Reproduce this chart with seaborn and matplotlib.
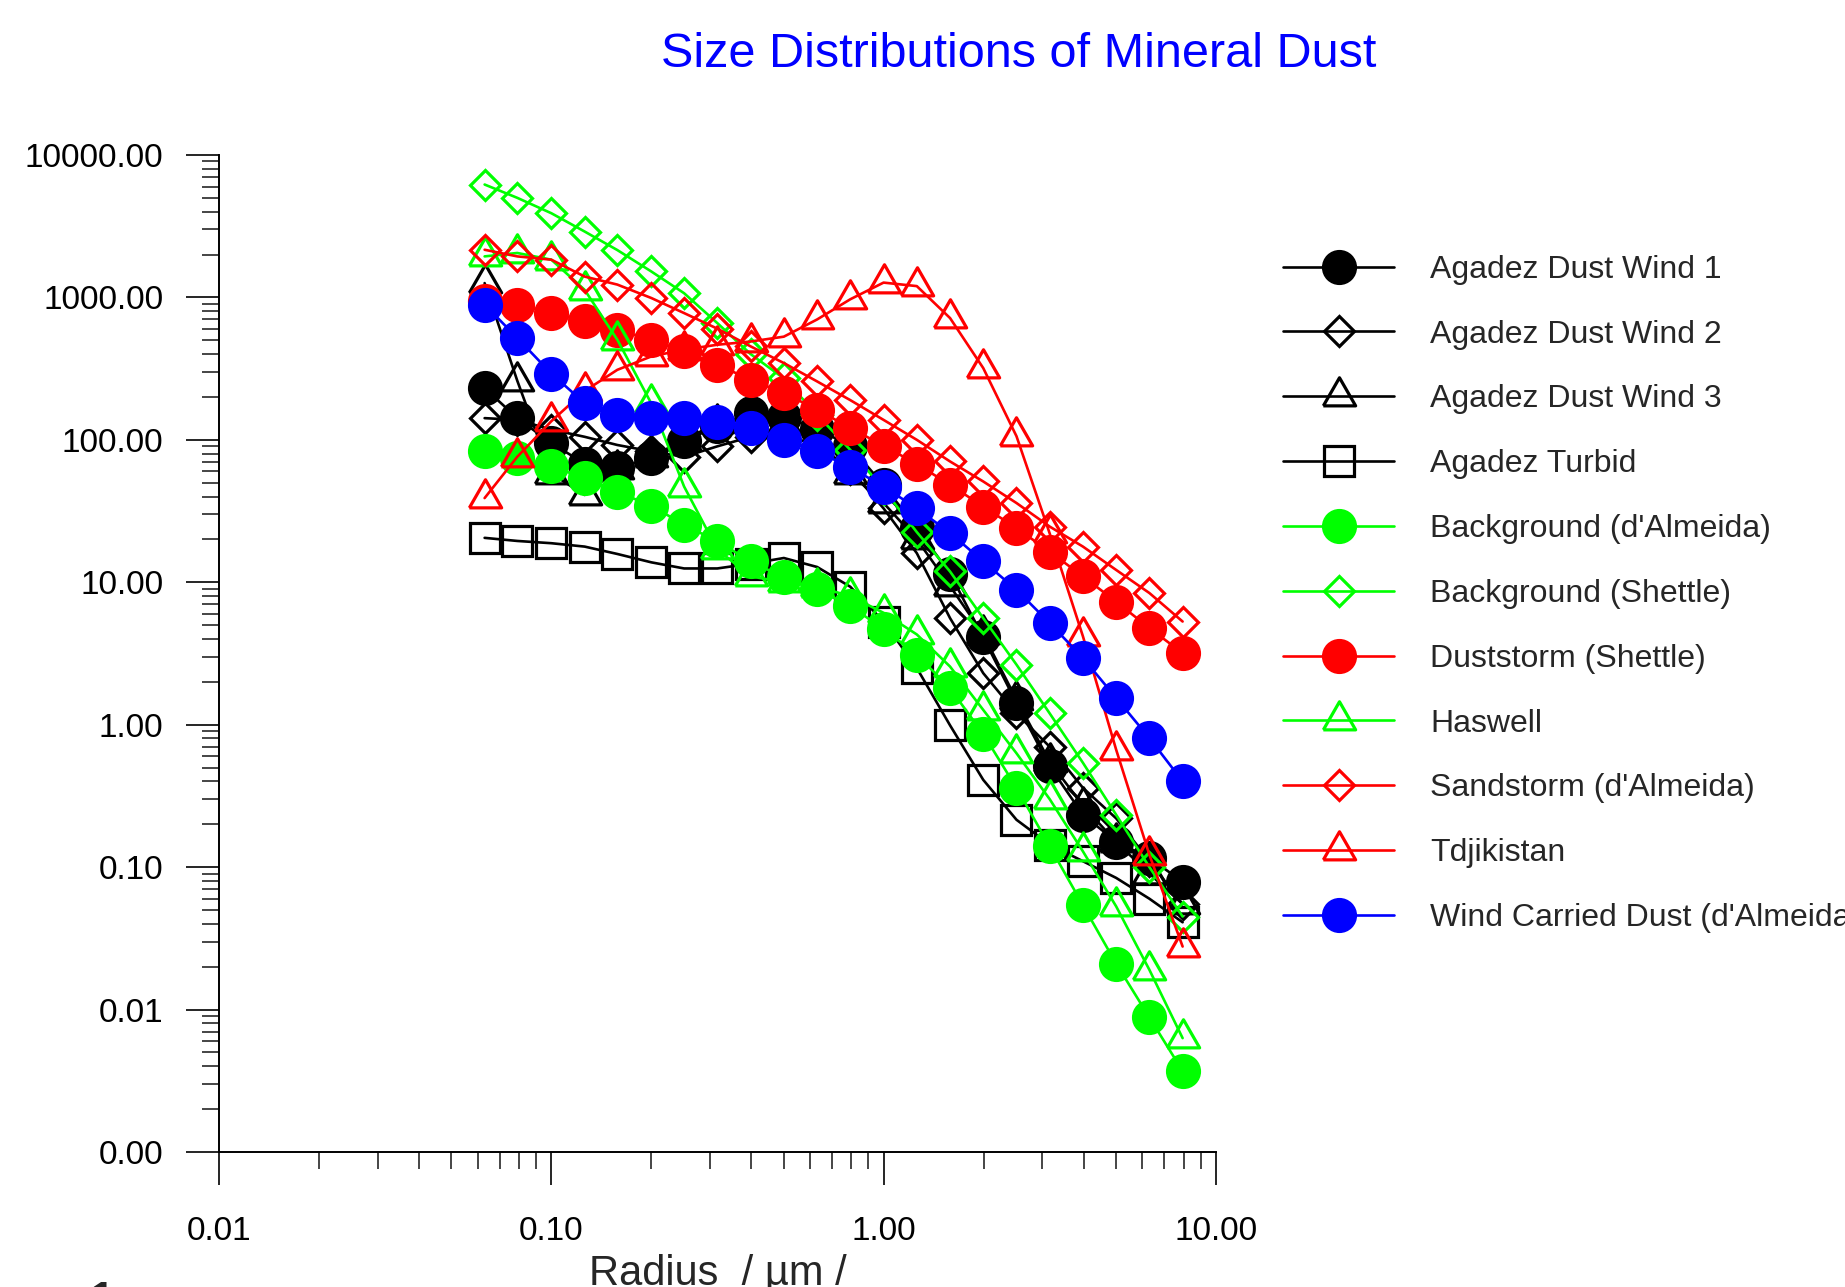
import numpy as np
import matplotlib
matplotlib.use('Agg')
import matplotlib.pyplot as plt
import seaborn as sns
from matplotlib.ticker import LogLocator, FuncFormatter, NullFormatter

# Radius grid (um), shared by every series
radius = [0.063, 0.079, 0.1, 0.126, 0.158, 0.2, 0.251, 0.316, 0.398, 0.501, 0.631,
          0.794, 1.0, 1.259, 1.585, 1.995, 2.512, 3.162, 3.981, 5.012, 6.31, 7.943]

# Number distributions
agadez_wind1 = [231, 142, 95, 68, 63, 75, 98, 125, 155, 145, 120, 90, 48, 24, 11.5,
                4.1, 1.42, 0.51, 0.233, 0.151, 0.116, 0.079]
agadez_wind2 = [142, 138, 118, 105, 92, 83, 76, 90, 105, 108, 92, 62, 33, 16, 5.6,
                2.3, 1.2, 0.70, 0.36, 0.22, 0.11, 0.055]
agadez_wind3 = [1260, 260, 58, 41, 62, 76, 100, 131, 140, 130, 100, 58, 36, 20, 9.4,
                4.3, 1.5, 0.55, 0.27, 0.15, 0.09, 0.055]
agadez_turbid = [20.5, 19.5, 18.8, 17.8, 15.8, 13.8, 12.5, 12.5, 13.5, 14.8, 12.8, 9.3,
                 5.3, 2.5, 0.99, 0.41, 0.215, 0.144, 0.11, 0.084, 0.06, 0.041]
bg_dalmeida = [83, 74, 65, 54, 43, 34.5, 25.3, 19.4, 14, 10.8, 8.9, 6.8, 4.7, 3.1, 1.8,
               0.86, 0.36, 0.14, 0.054, 0.021, 0.0088, 0.0037]
bg_shettle = [6200, 5000, 3900, 2900, 2150, 1520, 1070, 660, 400, 270, 150, 85, 45, 22.5,
              11.9, 5.6, 2.64, 1.2, 0.54, 0.233, 0.10, 0.045]
duststorm_shettle = [950, 889, 776, 679, 593, 505, 418, 337, 264, 213, 163, 121, 91, 67.5,
                     48.4, 34, 24, 16.4, 11, 7.3, 4.77, 3.18]
haswell = [1940, 2050, 1840, 1130, 505, 180, 47, 17, 11, 10, 9.3, 8, 6.1, 4.3, 2.56,
           1.27, 0.63, 0.30, 0.129, 0.053, 0.019, 0.0063]
sandstorm_dalmeida = [2160, 1940, 1840, 1400, 1230, 990, 776, 603, 453, 346, 257, 190, 138,
                      100, 70.5, 51, 36, 24.6, 17.8, 12.2, 8.4, 5.3]
tdjikistan = [39, 76, 135, 220, 310, 385, 430, 465, 490, 530, 700, 970, 1270, 1200, 716,
              319, 106, 22, 4.17, 0.667, 0.122, 0.0277]
wind_carried = [890, 519, 292, 181, 150, 142, 142, 134, 122, 100, 83, 64, 47, 33, 22.2,
                14, 8.85, 5.17, 2.94, 1.54, 0.805, 0.40]

labels = ['Agadez Dust Wind 1', 'Agadez Dust Wind 2', 'Agadez Dust Wind 3', 'Agadez Turbid',
          "Background (d'Almeida)", 'Background (Shettle)', 'Duststorm (Shettle)', 'Haswell',
          "Sandstorm (d'Almeida)", 'Tdjikistan', "Wind Carried Dust (d'Almeida)"]
series = [agadez_wind1, agadez_wind2, agadez_wind3, agadez_turbid, bg_dalmeida, bg_shettle,
          duststorm_shettle, haswell, sandstorm_dalmeida, tdjikistan, wind_carried]
colors = ['black', 'black', 'black', 'black', '#00ff00', '#00ff00', '#ff0000', '#00ff00',
          '#ff0000', '#ff0000', '#0000ff']
shapes = ['circle', 'diamond', 'triangle', 'square', 'circle', 'diamond', 'circle',
          'triangle', 'diamond', 'triangle', 'circle']

# marker look per shape: (marker, size, filled)
tri = [(-1, -0.58), (1, -0.58), (0, 1.16), (-1, -0.58)]
marker_look = {'circle': ('o', 23, True), 'diamond': ('D', 15, False),
               'triangle': (tri, 27, False), 'square': ('s', 21.5, False)}

sns.set_style('ticks')
plt.rcParams['font.family'] = ['Liberation Sans', 'DejaVu Sans']

fig = plt.figure(figsize=(18.45, 12.87), dpi=100)
ax = fig.add_axes([0.1187, 0.1049, 0.5403, 0.7747])
ax.set_xscale('log')
ax.set_yscale('log')

for i in range(len(series)):
    m, ms, filled = marker_look[shapes[i]]
    sns.lineplot(x=radius, y=series[i], ax=ax, color=colors[i], linewidth=1.9,
                 marker=m, markersize=ms, markeredgewidth=2.3,
                 markerfacecolor=colors[i] if filled else 'none',
                 markeredgecolor=colors[i], label=labels[i], zorder=3 + i)

ax.set_xlim(0.01, 10)
ax.set_ylim(0.001, 10000)

fmt = FuncFormatter(lambda v, p: '%.2f' % v)
for axis in [ax.xaxis, ax.yaxis]:
    axis.set_major_locator(LogLocator(base=10, numticks=20))
    axis.set_minor_locator(LogLocator(base=10, subs=np.arange(2, 10), numticks=40))
    axis.set_major_formatter(fmt)
    axis.set_minor_formatter(NullFormatter())

ax.tick_params(which='major', length=24, width=1.2, labelsize=24, colors='black')
ax.tick_params(which='minor', length=12, width=1.2)
ax.tick_params(axis='x', which='major', pad=22)
ax.tick_params(axis='y', which='major', pad=16)
for s in ['top', 'right']:
    ax.spines[s].set_visible(False)
for s in ['left', 'bottom']:
    ax.spines[s].set_linewidth(1.4)
    ax.spines[s].set_color('black')
ax.set_xlabel('')
ax.set_ylabel('')

handles, labs = ax.get_legend_handles_labels()
if ax.get_legend() is not None:
    ax.get_legend().remove()
fig.legend(handles, labs, loc='upper left', bbox_to_anchor=(0.6954, 0.802),
           frameon=False, fontsize=23, handlelength=3.48, handletextpad=1.13,
           labelspacing=1.09, borderpad=0, borderaxespad=0)

fig.text(0.552, 0.958, 'Size Distributions of Mineral Dust', color='#0000ff',
         fontsize=35, ha='center', va='center')
fig.text(0.3889, 0.0256, 'Radius  / \u00b5m /', fontsize=30, ha='center', va='top')
fig.text(0.049, 0.0055, '1', fontsize=30, fontweight='bold', ha='left', va='top')

fig.savefig('out.png', dpi=100)
